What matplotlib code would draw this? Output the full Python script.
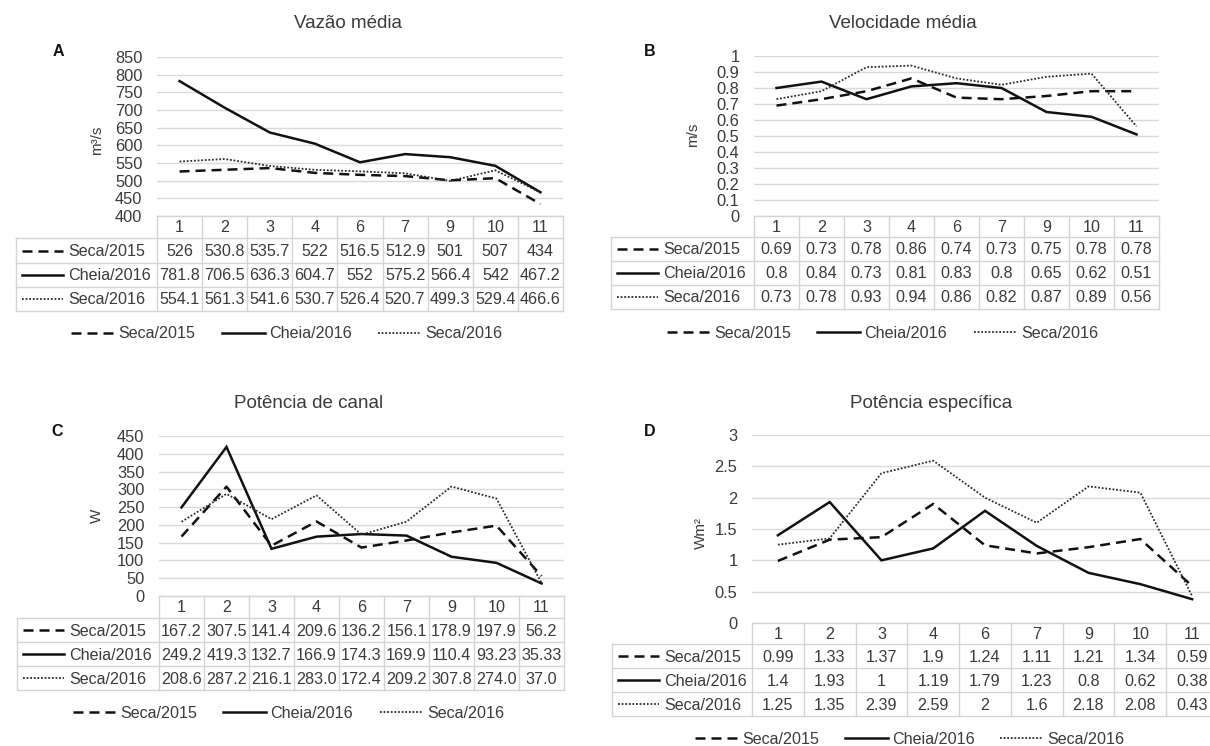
import numpy as np
import matplotlib
matplotlib.use("Agg")
import matplotlib.pyplot as plt
from matplotlib.lines import Line2D

plt.rcParams['font.family'] = ['Liberation Sans', 'DejaVu Sans']

# ---------------- data ----------------
stations = ["1", "2", "3", "4", "6", "7", "9", "10", "11"]
series_names = ["Seca/2015", "Cheia/2016", "Seca/2016"]

vazao_seca2015 = [526, 530.8, 535.7, 522, 516.5, 512.9, 501, 507, 434]
vazao_cheia2016 = [781.8, 706.5, 636.3, 604.7, 552, 575.2, 566.4, 542, 467.2]
vazao_seca2016 = [554.1, 561.3, 541.6, 530.7, 526.4, 520.7, 499.3, 529.4, 466.6]

vel_seca2015 = [0.69, 0.73, 0.78, 0.86, 0.74, 0.73, 0.75, 0.78, 0.78]
vel_cheia2016 = [0.8, 0.84, 0.73, 0.81, 0.83, 0.8, 0.65, 0.62, 0.51]
vel_seca2016 = [0.73, 0.78, 0.93, 0.94, 0.86, 0.82, 0.87, 0.89, 0.56]

pot_seca2015 = [167.2, 307.5, 141.4, 209.6, 136.2, 156.1, 178.9, 197.9, 56.2]
pot_cheia2016 = [249.2, 419.3, 132.7, 166.9, 174.3, 169.9, 110.4, 93.23, 35.33]
pot_seca2016 = [208.6, 287.2, 216.1, 283.0, 172.4, 209.2, 307.8, 274.0, 37.0]

esp_seca2015 = [0.99, 1.33, 1.37, 1.9, 1.24, 1.11, 1.21, 1.34, 0.59]
esp_cheia2016 = [1.4, 1.93, 1, 1.19, 1.79, 1.23, 0.8, 0.62, 0.38]
esp_seca2016 = [1.25, 1.35, 2.39, 2.59, 2, 1.6, 2.18, 2.08, 0.43]

vazao_ticks = [400, 450, 500, 550, 600, 650, 700, 750, 800, 850]
vel_ticks = [0, 0.1, 0.2, 0.3, 0.4, 0.5, 0.6, 0.7, 0.8, 0.9, 1]
pot_ticks = [0, 50, 100, 150, 200, 250, 300, 350, 400, 450]
esp_ticks = [0, 0.5, 1, 1.5, 2, 2.5, 3]

# ---------------- layout / style ----------------
W, H = 1210, 746
TXT = '#3a3a3a'
GRID = '#d9d9d9'
BORDER = '#d4d4d4'
LINE = '#111111'
FS = 11.6

styles = [
    dict(color=LINE, lw=1.8, dashes=(4.0, 2.4)),
    dict(color=LINE, lw=1.8, dashes=None),
    dict(color='#2a2a2a', lw=1.3, dashes=(1, 1.0)),
]

panels = [
    dict(letter='A', title='Vazão média', ylabel='m³/s',
         data=[vazao_seca2015, vazao_cheia2016, vazao_seca2016],
         fmts=["{:g}", "{:g}", "{:g}"], ticks=vazao_ticks,
         plot=(157, 57, 563, 216), tleft=16, rows=(216, 238, 263, 287, 311),
         leg_y=333, leg_x=(71, 222, 378),
         title_xy=(348, 24), letter_xy=(58, 51), ylabel_xy=(97, 140)),
    dict(letter='B', title='Velocidade média', ylabel='m/s',
         data=[vel_seca2015, vel_cheia2016, vel_seca2016],
         fmts=["{:g}", "{:g}", "{:g}"], ticks=vel_ticks,
         plot=(754, 56, 1159, 216), tleft=611, rows=(216, 237, 261, 285, 309),
         leg_y=332, leg_x=(667, 817, 974),
         title_xy=(903, 24), letter_xy=(650, 51), ylabel_xy=(693, 135)),
    dict(letter='C', title='Potência de canal', ylabel='W',
         data=[pot_seca2015, pot_cheia2016, pot_seca2016],
         fmts=["{:g}", "{:g}", "{:.1f}"], ticks=pot_ticks,
         plot=(159, 436, 564, 596), tleft=17, rows=(596, 618, 642, 666, 690),
         leg_y=712, leg_x=(73, 223, 380),
         title_xy=(309, 404), letter_xy=(57, 431), ylabel_xy=(97, 516)),
    dict(letter='D', title='Potência específica', ylabel='Wm²',
         data=[esp_seca2015, esp_cheia2016, esp_seca2016],
         fmts=["{:g}", "{:g}", "{:g}"], ticks=esp_ticks,
         plot=(752, 435, 1218, 623), tleft=612, rows=(623, 644, 668, 692, 716),
         leg_y=738, leg_x=(695, 845, 1000),
         title_xy=(931, 404), letter_xy=(650, 431), ylabel_xy=(701, 533)),
]

fig = plt.figure(figsize=(W / 100, H / 100), dpi=100)
fig.patch.set_facecolor('white')

ov = fig.add_axes([0, 0, 1, 1])
ov.set_xlim(0, W)
ov.set_ylim(H, 0)
ov.axis('off')
ov.patch.set_alpha(0)


def key_line(x0, x1, y, st):
    ln = Line2D([x0, x1], [y, y], color=st['color'], lw=st['lw'])
    if st['dashes'] is not None:
        ln.set_dashes(st['dashes'])
    ov.add_line(ln)


n = len(stations)
for p in panels:
    x0, y0, x1, y1 = p['plot']
    ax = fig.add_axes([x0 / W, 1 - y1 / H, (x1 - x0) / W, (y1 - y0) / H])
    ax.patch.set_alpha(0)
    ax.set_xlim(0, n)
    ax.set_ylim(p['ticks'][0], p['ticks'][-1])
    for s in ax.spines.values():
        s.set_visible(False)
    ax.set_xticks([])
    ax.set_yticks(p['ticks'])
    ax.set_yticklabels([f"{t:g}" for t in p['ticks']], color=TXT, fontsize=11.8)
    ax.tick_params(axis='y', length=0, pad=10.5)
    ax.grid(axis='y', color=GRID, lw=1.0)
    ax.set_axisbelow(True)
    xs = np.arange(n) + 0.5
    for vals, st in zip(p['data'], styles):
        ln, = ax.plot(xs, vals, color=st['color'], lw=st['lw'], clip_on=False,
                      solid_joinstyle='miter')
        if st['dashes'] is not None:
            ln.set_dashes(st['dashes'])

    # titles / labels
    ov.text(*p['title_xy'], p['title'], ha='center', va='center', fontsize=13.5, color=TXT)
    ov.text(*p['letter_xy'], p['letter'], ha='center', va='center', fontsize=11.5,
            fontweight='bold', color='#111111')
    ov.text(*p['ylabel_xy'], p['ylabel'], ha='center', va='center', rotation=90,
            fontsize=11, color=TXT)

    # table
    cw = (x1 - x0) / n
    r = p['rows']
    tl = p['tleft']
    bl = dict(color=BORDER, lw=1.0)
    ov.add_line(Line2D([x0, x1], [r[0], r[0]], **bl))
    for yy in r[1:]:
        ov.add_line(Line2D([tl, x1], [yy, yy], **bl))
    ov.add_line(Line2D([tl, tl], [r[1], r[-1]], **bl))
    for i in range(n + 1):
        xx = x0 + i * cw
        ov.add_line(Line2D([xx, xx], [r[0], r[-1]], **bl))
    for i, lab in enumerate(stations):
        ov.text(x0 + (i + 0.5) * cw, (r[0] + r[1]) / 2 + 1, lab, ha='center', va='center',
                fontsize=FS, color=TXT)
    for k, (vals, fmt, st, name) in enumerate(zip(p['data'], p['fmts'], styles, series_names)):
        yc = (r[k + 1] + r[k + 2]) / 2
        key_line(tl + 6, tl + 47, yc, st)
        ov.text(tl + 52, yc + 1, name, ha='left', va='center', fontsize=FS, color=TXT)
        for i, v in enumerate(vals):
            ov.text(x0 + (i + 0.5) * cw, yc + 1, fmt.format(v), ha='center', va='center',
                    fontsize=FS, color=TXT)

    # legend
    for lx, st, name in zip(p['leg_x'], styles, series_names):
        key_line(lx, lx + 43, p['leg_y'], st)
        ov.text(lx + 47, p['leg_y'] + 1, name, ha='left', va='center', fontsize=FS, color=TXT)

fig.savefig('out.png', dpi=100, facecolor='white')
